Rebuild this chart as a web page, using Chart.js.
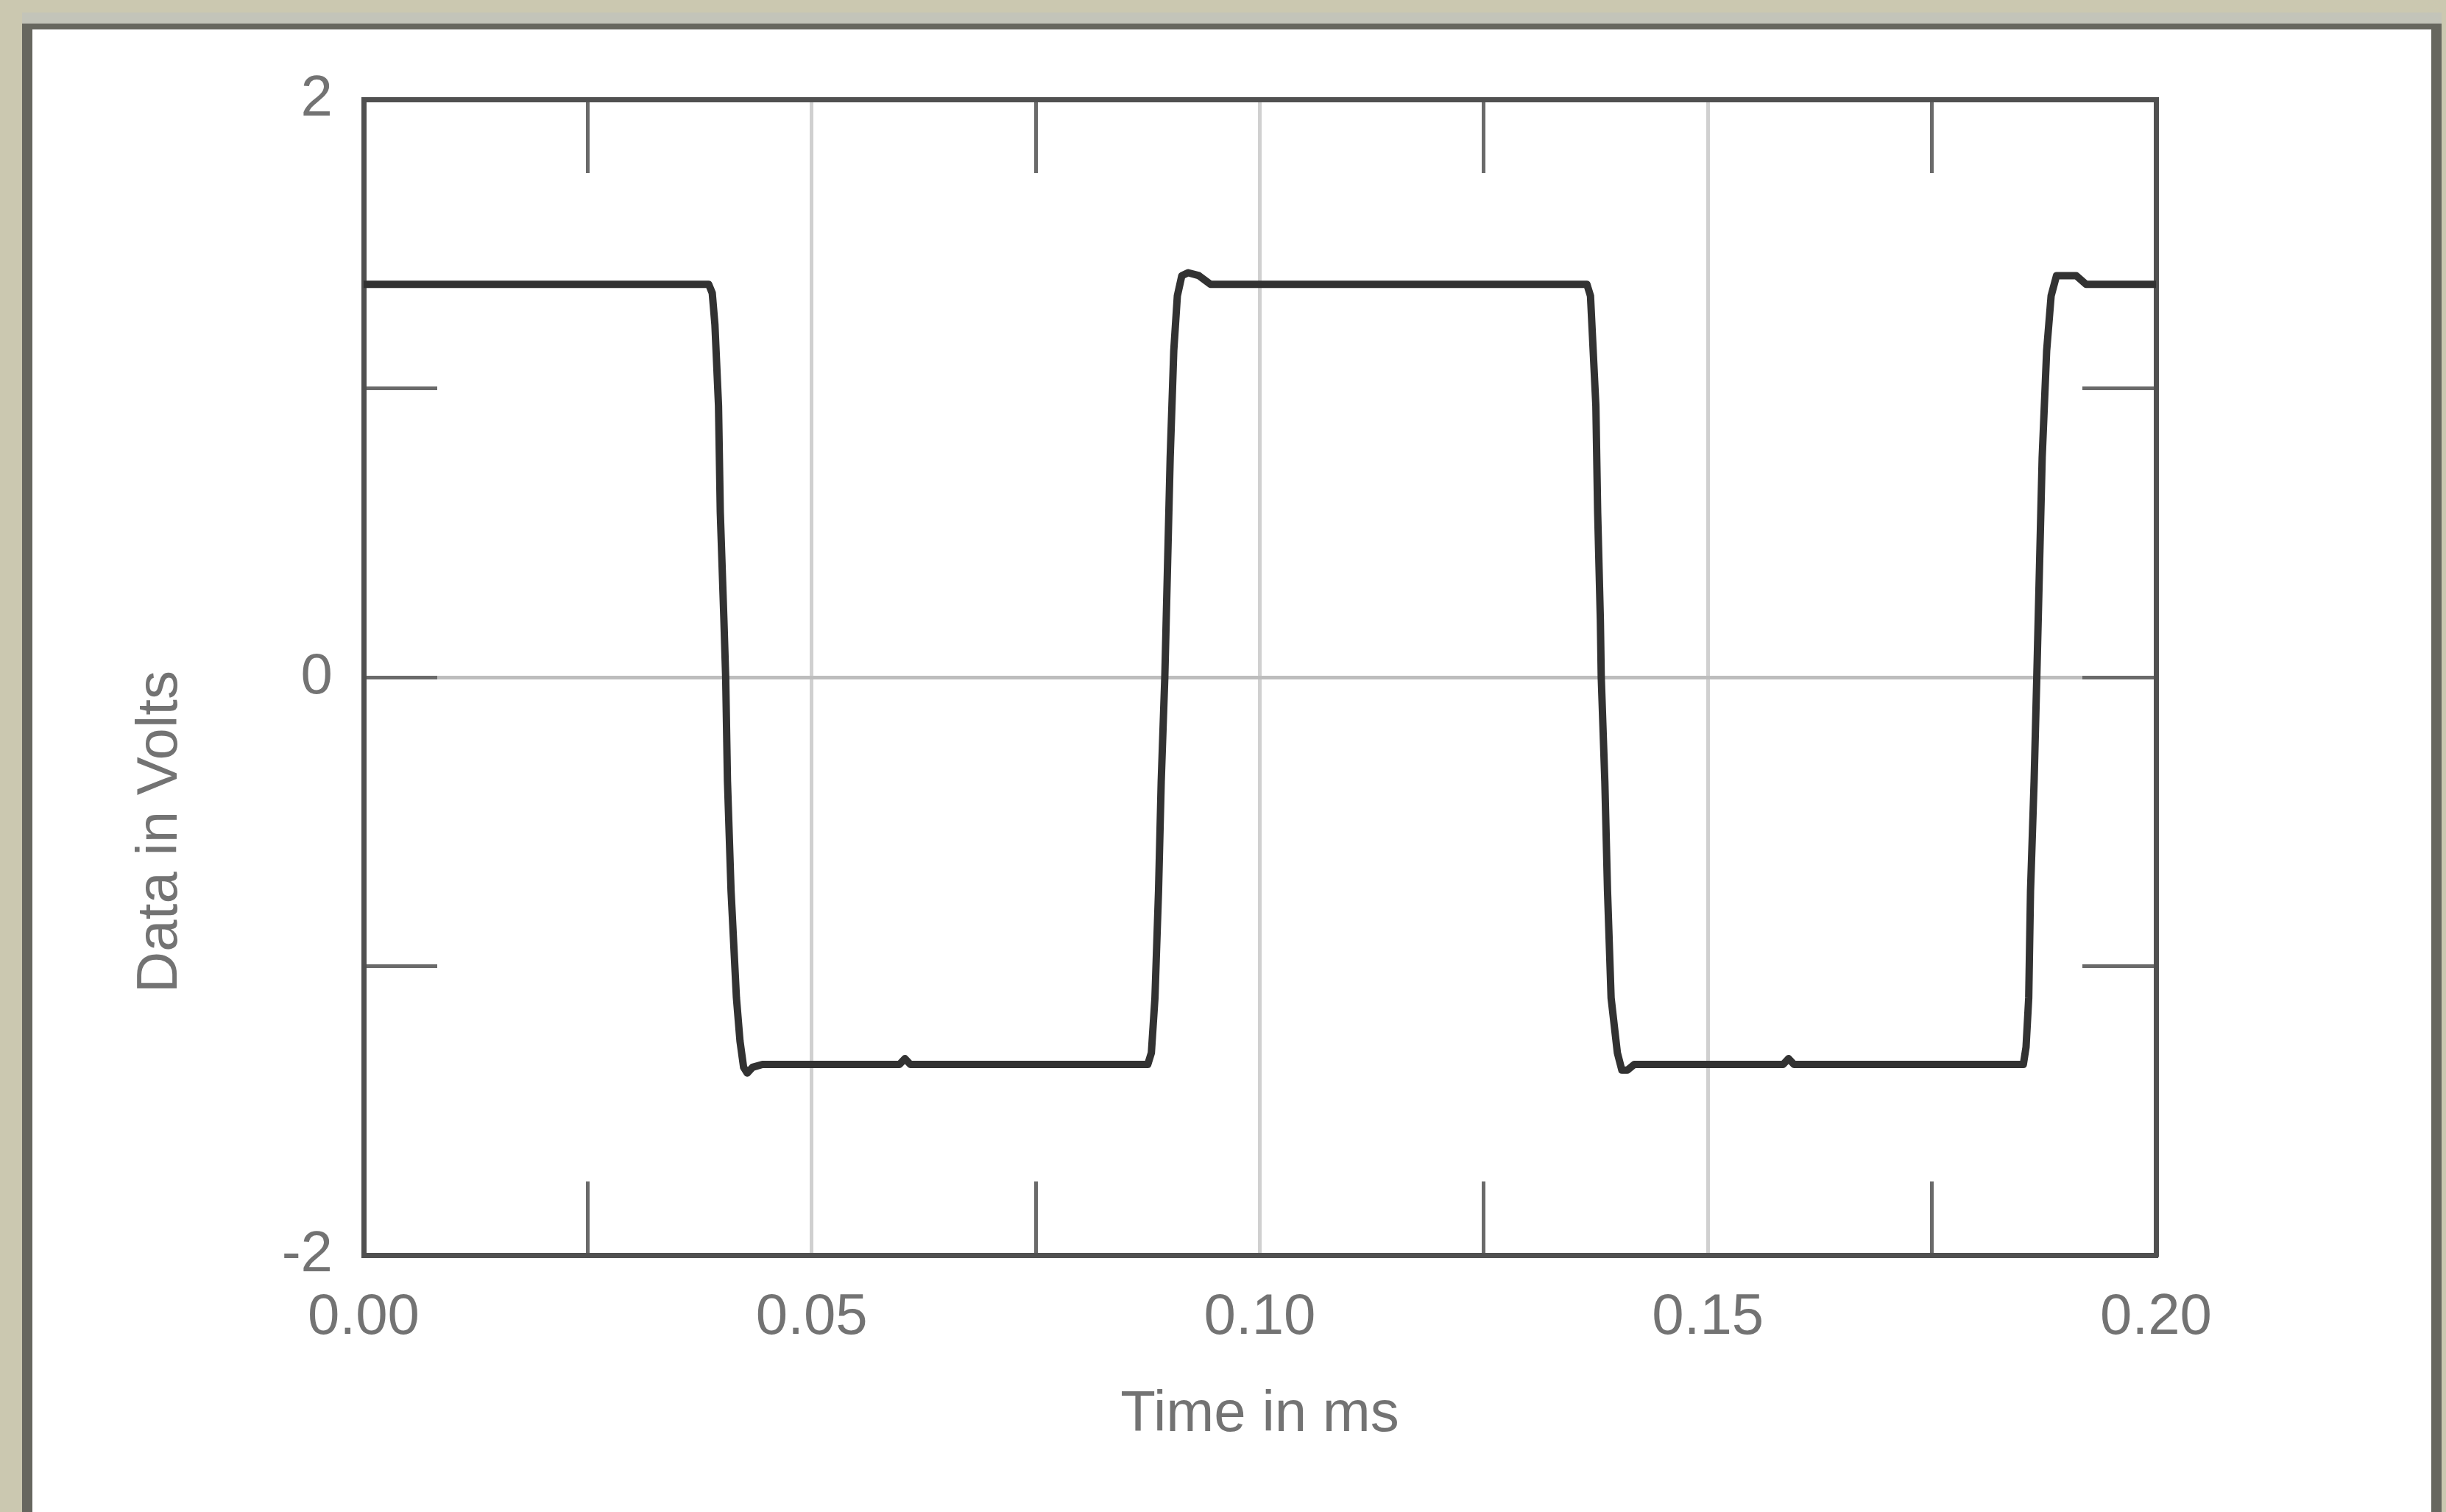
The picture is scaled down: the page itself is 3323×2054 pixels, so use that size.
<!DOCTYPE html>
<html>
<head>
<meta charset="utf-8">
<script src="https://cdn.jsdelivr.net/npm/chart.js@4.4.0/dist/chart.umd.min.js"></script>
<style>
html,body{margin:0;padding:0;width:3323px;height:2054px;overflow:hidden;background:#cbc8b0;}
#band{position:absolute;left:30px;top:17px;width:3287px;height:15px;background:#c3c4b9;}
#frame{position:absolute;left:30px;top:32px;width:3287px;height:2100px;box-sizing:border-box;border-style:solid;border-color:#67675f;border-width:8px 14px 0 14px;background:#ffffff;}
#wrap{position:absolute;left:0;top:0;width:3323px;height:2400px;z-index:2;}
</style>
</head>
<body>
<div id="band"></div>
<div id="frame"></div>
<div id="wrap"><canvas id="c"></canvas></div>
<script>
// ---- data ----
const timeMs = [
  0.0000, 0.0385, 0.0389, 0.0392, 0.0396, 0.0398, 0.0402, 0.0404, 0.0406, 0.0410, 0.0416, 0.0420, 0.0424, 0.0428, 0.0434, 0.0445,
  0.0598, 0.0604, 0.0610,
  0.0875, 0.0879, 0.0883, 0.0887, 0.0890, 0.0894, 0.0897, 0.0900, 0.0904, 0.0908, 0.0913, 0.0920, 0.0932, 0.0945,
  0.1365, 0.1369, 0.1375, 0.1377, 0.1380, 0.1381, 0.1385, 0.1388, 0.1392, 0.1399, 0.1404, 0.1410, 0.1418,
  0.1584, 0.1590, 0.1596,
  0.1852, 0.1855, 0.1858, 0.1860, 0.1864, 0.1867, 0.1870, 0.1873, 0.1878, 0.1883, 0.1889, 0.1911, 0.1922, 0.2000
];
const volts = [
  1.36, 1.36, 1.33, 1.22, 0.94, 0.57, 0.20, 0.00, -0.36, -0.74, -1.11, -1.26, -1.35, -1.37, -1.35, -1.34,
  -1.34, -1.32, -1.34,
  -1.34, -1.30, -1.11, -0.74, -0.36, 0.00, 0.38, 0.76, 1.13, 1.32, 1.39, 1.40, 1.39, 1.36,
  1.36, 1.32, 0.94, 0.57, 0.20, 0.00, -0.36, -0.74, -1.11, -1.30, -1.36, -1.36, -1.34,
  -1.34, -1.32, -1.34,
  -1.34, -1.28, -1.11, -0.74, -0.36, 0.00, 0.38, 0.76, 1.13, 1.32, 1.39, 1.39, 1.36, 1.36
];
const xTickValues = [0, 0.05, 0.10, 0.15, 0.20];
const xTickLabels = ['0.00', '0.05', '0.10', '0.15', '0.20'];
const yTickValues = [-2, 0, 2];
const yTickLabels = ['-2', '0', '2'];
const xTitle = 'Time in ms';
const yTitle = 'Data in Volts';

// ---- styling ----
const FONT = {family: "'Liberation Sans', Arial, sans-serif", size: 78, weight: 'normal'};
const TEXT = '#737373';
const AXIS = '#505050';
const TICK = '#6a6a6a';
const GRIDX = '#d0d0d0';
const GRIDY = '#bdbdbd';
const NONE = 'rgba(0,0,0,0)';

const xIdx = v => xTickValues.findIndex(t => Math.abs(t - v) < 1e-9);
const yIdx = v => yTickValues.findIndex(t => Math.abs(t - v) < 1e-9);
const isInnerMajorX = v => { const i = xIdx(v); return i > 0 && i < xTickValues.length - 1; };

const border = {display: true, color: AXIS, width: 7};
const noVPad = s => { s.paddingTop = 0; s.paddingBottom = 0; };

new Chart(document.getElementById('c'), {
  type: 'line',
  data: {
    datasets: [{
      data: timeMs.map((t, i) => ({x: t, y: volts[i]})),
      borderColor: '#323232',
      borderWidth: 10,
      pointRadius: 0,
      tension: 0,
      fill: false,
      borderJoinStyle: 'round',
      borderCapStyle: 'round'
    }]
  },
  options: {
    responsive: true,
    maintainAspectRatio: false,
    animation: false,
    devicePixelRatio: 1,
    layout: {padding: {left: 150, right: 374, top: 100, bottom: 240}},
    plugins: {
      legend: {display: false},
      tooltip: {enabled: false},
      title: {
        display: true, position: 'left', text: yTitle, color: TEXT,
        font: FONT, padding: {top: 22, bottom: 0}
      }
    },
    scales: {
      x: {
        type: 'linear', position: 'bottom', min: 0, max: 0.2,
        afterFit: s => { s.height = 455; s.paddingLeft = 0; s.paddingRight = 0; },
        ticks: {
          stepSize: 0.025, autoSkip: false, maxRotation: 0, minRotation: 0,
          padding: 139, color: TEXT, font: FONT,
          callback: v => { const i = xIdx(v); return i >= 0 ? xTickLabels[i] : ''; }
        },
        grid: {
          color: c => isInnerMajorX(c.tick.value) ? GRIDX : NONE,
          lineWidth: 5, tickLength: -100, tickWidth: 5,
          tickColor: c => isInnerMajorX(c.tick.value) ? GRIDX : TICK
        },
        border: border,
        title: {display: true, text: xTitle, color: TEXT, font: FONT, padding: {top: 0, bottom: 191}}
      },
      x2: {
        type: 'linear', position: 'top', min: 0, max: 0.2,
        afterFit: s => { s.height = 35; s.paddingLeft = 0; s.paddingRight = 0; },
        ticks: {stepSize: 0.025, autoSkip: false, display: false},
        grid: {
          drawOnChartArea: false, tickLength: -100, tickWidth: 5,
          tickColor: c => isInnerMajorX(c.tick.value) ? GRIDX : TICK
        },
        border: border
      },
      y: {
        type: 'linear', position: 'left', min: -2, max: 2,
        afterFit: s => { s.width = 228.4; noVPad(s); },
        ticks: {
          stepSize: 1, autoSkip: false, padding: 142, color: TEXT, font: FONT,
          callback: v => { const i = yIdx(v); return i >= 0 ? yTickLabels[i] : ''; }
        },
        grid: {
          color: c => Math.abs(c.tick.value) < 1e-9 ? GRIDY : NONE,
          lineWidth: 5, tickLength: -100, tickWidth: 5, tickColor: TICK
        },
        border: border
      },
      y2: {
        type: 'linear', position: 'right', min: -2, max: 2,
        afterFit: s => { s.width = 20; noVPad(s); },
        ticks: {stepSize: 1, autoSkip: false, display: false},
        grid: {drawOnChartArea: false, tickLength: -100, tickWidth: 5, tickColor: TICK},
        border: border
      }
    }
  }
});
</script>
</body>
</html>
